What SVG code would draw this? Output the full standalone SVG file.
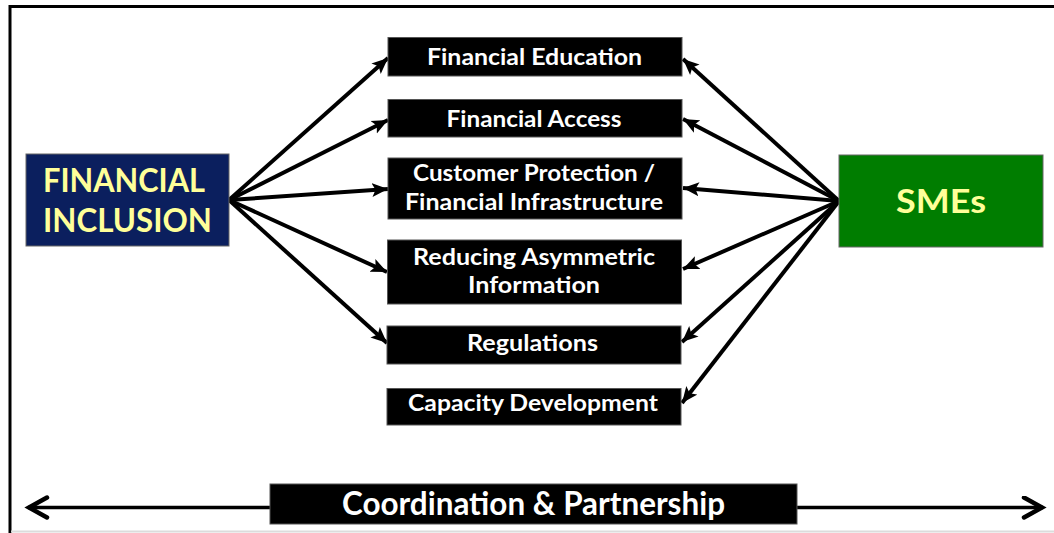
<svg xmlns="http://www.w3.org/2000/svg" width="1054" height="533" viewBox="0 0 1054 533">
  <defs>
    <marker id="head" markerUnits="userSpaceOnUse" markerWidth="17" markerHeight="15" refX="16" refY="7.5" orient="auto">
      <path d="M0,0.5 L16,7.5 L0,14.5 L3.5,7.5 Z" fill="#000"/>
    </marker>
    <marker id="chev" markerUnits="userSpaceOnUse" markerWidth="26" markerHeight="26" refX="22" refY="12" orient="auto-start-reverse">
      <path d="M3,2 L21,12 L3,22" fill="none" stroke="#000" stroke-width="4.5" stroke-linecap="round" stroke-linejoin="miter"/>
    </marker>
    <style>
      .topic { fill: #000; stroke: #555; stroke-width: 1; }
      .tt { font-family: Lato, "Open Sans", "Liberation Sans", sans-serif; font-weight: 700; font-size: 23px; fill: #fff; text-anchor: middle; }
      .big { font-family: Lato, "Open Sans", "Liberation Sans", sans-serif; font-weight: 700; font-size: 33px; fill: #ffff99; text-anchor: middle; }
      .conn line { stroke: #000; stroke-width: 4; marker-end: url(#head); }
      .coord { font-family: Lato, "Open Sans", "Liberation Sans", sans-serif; font-weight: 700; font-size: 33px; fill: #fff; text-anchor: middle; }
    </style>
  </defs>
  <rect width="1054" height="533" fill="#fff"/>
  <rect id="frame" x="10" y="6.5" width="1100" height="600" fill="none" stroke="#000" stroke-width="3"/>
  <line x1="11" y1="531.5" x2="1054" y2="531.5" stroke="#dcdcdc" stroke-width="2"/>

  <g class="conn" id="connectors">
    <line x1="229" y1="200" x2="388" y2="58"/>
    <line x1="229" y1="200" x2="388" y2="120"/>
    <line x1="229" y1="200" x2="388" y2="189"/>
    <line x1="229" y1="200" x2="387" y2="272"/>
    <line x1="229" y1="200" x2="387" y2="343"/>
    <line x1="839" y1="201" x2="683" y2="59"/>
    <line x1="839" y1="201" x2="683" y2="119"/>
    <line x1="839" y1="201" x2="683" y2="188"/>
    <line x1="839" y1="201" x2="683" y2="269"/>
    <line x1="839" y1="201" x2="682" y2="342"/>
    <line x1="839" y1="201" x2="682" y2="403"/>
    <path d="M28,507.5 L1043,507.5" fill="none" stroke="#000" stroke-width="3.5" marker-start="url(#chev)" marker-end="url(#chev)"/>
  </g>

  <g id="financial-inclusion">
    <rect x="26" y="154" width="203" height="92" fill="#0b1f5e" stroke="#666" stroke-width="1"/>
    <text class="big" x="124" y="191.5" textLength="162" lengthAdjust="spacingAndGlyphs">FINANCIAL</text>
    <text class="big" x="127.5" y="231.5" textLength="169" lengthAdjust="spacingAndGlyphs">INCLUSION</text>
  </g>

  <g id="smes">
    <rect x="839" y="155" width="204" height="92" fill="#007d00" stroke="#666" stroke-width="1"/>
    <text class="big" x="941" y="212.5" textLength="90" lengthAdjust="spacingAndGlyphs">SMEs</text>
  </g>

  <g id="financial-education">
    <rect class="topic" x="388" y="37.5" width="294" height="38.5"/>
    <text class="tt" x="534.5" y="65" textLength="215" lengthAdjust="spacingAndGlyphs">Financial Education</text>
  </g>
  <g id="financial-access">
    <rect class="topic" x="388" y="99.5" width="294" height="37.5"/>
    <text class="tt" x="534" y="126.5" textLength="175" lengthAdjust="spacingAndGlyphs">Financial Access</text>
  </g>
  <g id="customer-protection">
    <rect class="topic" x="388" y="158" width="294" height="61"/>
    <text class="tt" x="534" y="181" textLength="242" lengthAdjust="spacingAndGlyphs">Customer Protection /</text>
    <text class="tt" x="534" y="210" textLength="258" lengthAdjust="spacingAndGlyphs">Financial Infrastructure</text>
  </g>
  <g id="reducing-asymmetric">
    <rect class="topic" x="387.5" y="240" width="294" height="64"/>
    <text class="tt" x="534" y="265" textLength="242" lengthAdjust="spacingAndGlyphs">Reducing Asymmetric</text>
    <text class="tt" x="534" y="293" textLength="132" lengthAdjust="spacingAndGlyphs">Information</text>
  </g>
  <g id="regulations">
    <rect class="topic" x="387" y="326" width="294" height="38"/>
    <text class="tt" x="532.5" y="350.5" textLength="131" lengthAdjust="spacingAndGlyphs">Regulations</text>
  </g>
  <g id="capacity-development">
    <rect class="topic" x="387" y="388.5" width="294" height="36.5"/>
    <text class="tt" x="533" y="410.5" textLength="250" lengthAdjust="spacingAndGlyphs">Capacity Development</text>
  </g>

  <g id="coordination">
    <rect x="270" y="484" width="527" height="40" fill="#000" stroke="#555" stroke-width="1"/>
    <text class="coord" x="533.5" y="515" textLength="383" lengthAdjust="spacingAndGlyphs">Coordination &amp; Partnership</text>
  </g>
</svg>
